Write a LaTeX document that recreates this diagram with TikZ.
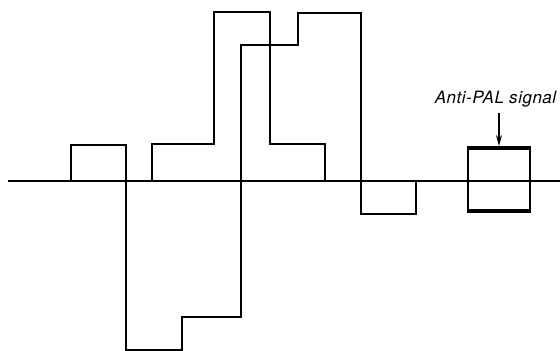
\documentclass[tikz,border=0pt]{standalone}
\usepackage{fontspec}
\setsansfont{TeX Gyre Heros}[LetterSpace=3]
\usetikzlibrary{arrows.meta}
\begin{document}
\begin{tikzpicture}[x=1pt,y=-1pt,
  wave/.style={line width=2pt,line join=miter},
  axisline/.style={line width=1.8pt},
  thickedge/.style={line width=3.6pt},
  lbl/.style={font=\sffamily\itshape\fontsize{17}{19}\selectfont,inner sep=0pt}]
\useasboundingbox (0,0) rectangle (560,351);
% axis
\draw[axisline] (8,181) -- (560,181);
% trace 1
\draw[wave] (71,181) -- (71,145) -- (126,145) -- (126,350) -- (182,350) -- (182,317)
  -- (241,317) -- (241,45) -- (298,45) -- (298,13) -- (361,13) -- (361,214)
  -- (416,214) -- (416,181);
% trace 2
\draw[wave] (152,181) -- (152,144) -- (214,144) -- (214,12) -- (270,12) -- (270,144)
  -- (325,144) -- (325,181);
% anti-PAL box
\draw[wave] (468,148) -- (468,211) (530,148) -- (530,211);
\draw[thickedge] (467,148) -- (531,148);
\draw[thickedge] (467,211) -- (531,211);
\coordinate (tip) at (499,146);
\node[lbl,anchor=base] (label) at (495.5,103.5) {Anti-PAL signal};
\draw[line width=1.3pt,-{Stealth[length=11pt,width=6pt]}] (499,113) -- (tip);
\end{tikzpicture}
\end{document}
